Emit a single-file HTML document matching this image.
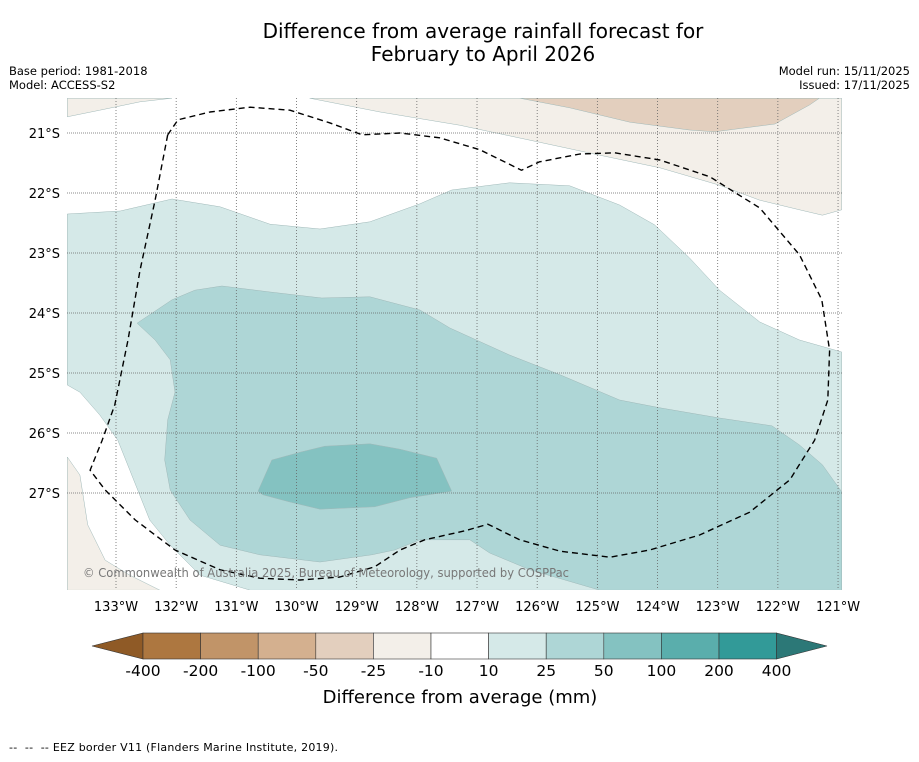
<!DOCTYPE html>
<html><head><meta charset="utf-8"><style>
body{margin:0;background:#fff;width:919px;height:758px;overflow:hidden;font-family:"DejaVu Sans","Liberation Sans",sans-serif;}
svg text{font-family:"DejaVu Sans","Liberation Sans",sans-serif;}
</style></head><body>
<svg id="chart" width="919" height="758" viewBox="0 0 919 758" xmlns="http://www.w3.org/2000/svg">
<text x="483" y="38" font-size="20" text-anchor="middle">Difference from average rainfall forecast for</text>
<text x="483" y="61" font-size="20" text-anchor="middle">February to April 2026</text>
<text x="9" y="75" font-size="11.5">Base period: 1981-2018</text>
<text x="9" y="89" font-size="11.5">Model: ACCESS-S2</text>
<text x="910" y="75" font-size="11.5" text-anchor="end">Model run: 15/11/2025</text>
<text x="910" y="89" font-size="11.5" text-anchor="end">Issued: 17/11/2025</text>
<defs><clipPath id="mapclip"><rect x="67" y="98" width="775" height="492"/></clipPath></defs>
<g id="map" clip-path="url(#mapclip)"></g>
<g id="axes"></g>
<g id="cbar"></g>
<text x="460" y="703" font-size="18" text-anchor="middle">Difference from average (mm)</text>
<text x="9" y="751" font-size="11" textLength="329" lengthAdjust="spacing" xml:space="preserve">--  --  -- EEZ border V11 (Flanders Marine Institute, 2019).</text>
</svg>
<script>
const lonTicks=[-133,-132,-131,-130,-129,-128,-127,-126,-125,-124,-123,-122,-121];
const latTicks=[-21,-22,-23,-24,-25,-26,-27];
const cbarLabels=["-400","-200","-100","-50","-25","-10","10","25","50","100","200","400"];
const cbarColors=["#ad7740","#c19468","#d4b08f","#e3cfbe","#f3efe9","#ffffff","#d5e9e8","#aed6d6","#84c2c1","#5aaeac","#329a98"];
const beigeTL=[[-133.81,-20.42],[-133.81,-20.73],[-133.27,-20.62],[-132.6,-20.48],[-132.07,-20.42]];
const beigeTR=[[-129.78,-20.42],[-128.61,-20.65],[-127.29,-20.87],[-126.12,-21.12],[-124.96,-21.37],[-123.96,-21.58],[-122.97,-21.87],[-122.3,-22.12],[-121.64,-22.28],[-121.26,-22.37],[-120.94,-22.28],[-120.94,-20.42]];
const beigeDark=[[-126.29,-20.42],[-125.46,-20.58],[-124.46,-20.82],[-123.47,-20.95],[-123.05,-20.98],[-122.05,-20.85],[-121.47,-20.53],[-121.31,-20.42]];
const beigeBL=[[-133.81,-26.4],[-133.6,-26.7],[-133.47,-27.53],[-133.18,-28.12],[-132.77,-28.37],[-132.27,-28.62],[-133.81,-28.62]];
const teal1=[[-133.81,-22.35],[-132.93,-22.3],[-132.07,-22.1],[-131.27,-22.23],[-130.44,-22.52],[-129.61,-22.6],[-128.78,-22.48],[-127.95,-22.18],[-127.42,-21.95],[-126.46,-21.83],[-125.46,-21.88],[-124.63,-22.2],[-124.05,-22.53],[-123.47,-23.08],[-122.97,-23.62],[-122.3,-24.15],[-121.64,-24.45],[-120.94,-24.65],[-120.94,-28.62],[-130.77,-28.62],[-131.6,-28.37],[-132.1,-27.87],[-132.44,-27.45],[-132.77,-26.62],[-132.97,-26.12],[-133.27,-25.7],[-133.6,-25.32],[-133.81,-25.2]];
const teal2=[[-132.65,-24.17],[-132.07,-23.78],[-131.69,-23.62],[-131.24,-23.55],[-130.44,-23.65],[-129.58,-23.75],[-128.78,-23.73],[-127.95,-23.95],[-127.45,-24.25],[-126.46,-24.7],[-125.62,-25.03],[-124.63,-25.45],[-123.96,-25.58],[-122.97,-25.75],[-122.1,-25.88],[-121.64,-26.2],[-121.26,-26.53],[-120.94,-26.98],[-120.94,-28.62],[-124.96,-28.62],[-126.12,-28.28],[-126.79,-28.0],[-127.12,-27.78],[-127.95,-27.78],[-128.37,-27.95],[-128.75,-28.03],[-129.61,-28.15],[-130.61,-28.03],[-131.27,-27.87],[-131.77,-27.45],[-132.1,-26.95],[-132.19,-26.45],[-132.14,-25.78],[-132.02,-25.32],[-132.1,-24.78],[-132.35,-24.45]];
const teal3=[[-130.64,-26.97],[-130.41,-26.45],[-129.94,-26.32],[-129.53,-26.22],[-128.78,-26.18],[-128.28,-26.27],[-127.67,-26.42],[-127.42,-26.97],[-128.12,-27.08],[-128.7,-27.23],[-129.61,-27.27],[-130.11,-27.15],[-130.56,-27.03]];
const eez=[[-132.14,-21.03],[-131.97,-20.78],[-131.44,-20.65],[-130.77,-20.57],[-130.11,-20.62],[-129.45,-20.83],[-128.91,-21.03],[-128.28,-21.0],[-127.62,-21.08],[-126.95,-21.28],[-126.26,-21.62],[-125.96,-21.48],[-125.29,-21.35],[-124.71,-21.33],[-123.96,-21.45],[-123.13,-21.73],[-122.3,-22.25],[-121.64,-23.03],[-121.27,-23.78],[-121.14,-24.62],[-121.17,-25.45],[-121.39,-26.12],[-121.8,-26.78],[-122.47,-27.32],[-123.3,-27.7],[-124.13,-27.95],[-124.79,-28.07],[-125.62,-27.97],[-126.29,-27.78],[-126.82,-27.52],[-127.2,-27.63],[-127.87,-27.78],[-128.28,-27.95],[-128.7,-28.23],[-129.28,-28.4],[-129.94,-28.45],[-130.61,-28.42],[-131.27,-28.28],[-132.02,-27.95],[-132.68,-27.45],[-133.18,-26.95],[-133.43,-26.62],[-133.23,-26.12],[-133.02,-25.53],[-132.8,-24.45],[-132.6,-23.28],[-132.35,-22.12],[-132.14,-21.03]];

const NS='http://www.w3.org/2000/svg';
function X(lon){return 116+(lon+133)*60.17;}
function Y(lat){return 133+(-21-lat)*60;}
function mk(tag,attrs,parent){const e=document.createElementNS(NS,tag);for(const k in attrs)e.setAttribute(k,attrs[k]);parent.appendChild(e);return e;}
function pts(a){return a.map(p=>X(p[0]).toFixed(1)+','+Y(p[1]).toFixed(1)).join(' ');}
const map=document.getElementById('map');
const shapes=[[beigeTL,'#f3efe9','beige-region-top-left'],[beigeTR,'#f3efe9','beige-region-top-right'],[beigeDark,'#e3cfbe','dry-region-top-right'],[beigeBL,'#f3efe9','beige-region-bottom-left'],[teal1,'#d5e9e8','wet-region-10-25'],[teal2,'#aed6d6','wet-region-25-50'],[teal3,'#84c2c1','wet-region-50-100']];
shapes.forEach(s=>{
 const p=mk('polygon',{points:pts(s[0]),fill:s[1],stroke:'#9fb8b8','stroke-width':'0.5'},map);
 
 
});
lonTicks.forEach(l=>{
 const g=mk('line',{x1:X(l),x2:X(l),y1:98,y2:590,stroke:'#666','stroke-width':'0.8','stroke-dasharray':'1,2'},map);
 
 
});
latTicks.forEach(l=>{
 const g=mk('line',{x1:67,x2:842,y1:Y(l),y2:Y(l),stroke:'#666','stroke-width':'0.8','stroke-dasharray':'1,1'},map);
 
 
});
const ez=mk('polyline',{points:pts(eez),fill:'none',stroke:'#000','stroke-width':'1.4','stroke-dasharray':'6,4','stroke-linejoin':'round'},map);


const cr=mk('text',{x:83,y:577,'font-size':'12',fill:'#777',textLength:'486',lengthAdjust:'spacingAndGlyphs'},map);
cr.textContent='© Commonwealth of Australia 2025, Bureau of Meteorology, supported by COSPPac';


const axes=document.getElementById('axes');
lonTicks.forEach(l=>{
 const t=mk('text',{x:X(l),y:611,'font-size':'13','text-anchor':'middle'},axes);
 t.textContent=Math.abs(l)+'°W';
 
 
});
latTicks.forEach(l=>{
 const t=mk('text',{x:60,y:Y(l)+5,'font-size':'13','text-anchor':'end'},axes);
 t.textContent=Math.abs(l)+'°S';
 
 
});
const cb=document.getElementById('cbar');
const cx0=143,cw=57.6,cy=633,ch=26;
const lt=mk('polygon',{points:`92,${cy+ch/2} ${cx0},${cy} ${cx0},${cy+ch}`,fill:'#8f5a26',stroke:'#333','stroke-width':'0.6'},cb);


cbarColors.forEach((c,i)=>{
 const r=mk('rect',{x:cx0+i*cw,y:cy,width:cw,height:ch,fill:c,stroke:'#333','stroke-width':'0.6'},cb);
 
 
});
const xe=cx0+cbarColors.length*cw;
const rt=mk('polygon',{points:`${xe},${cy} 827,${cy+ch/2} ${xe},${cy+ch}`,fill:'#2c7877',stroke:'#333','stroke-width':'0.6'},cb);


cbarLabels.forEach((s,i)=>{
 const t=mk('text',{x:cx0+i*cw,y:676,'font-size':'15.5','text-anchor':'middle'},cb);
 t.textContent=s;
 
 
});
</script>
</body></html>
